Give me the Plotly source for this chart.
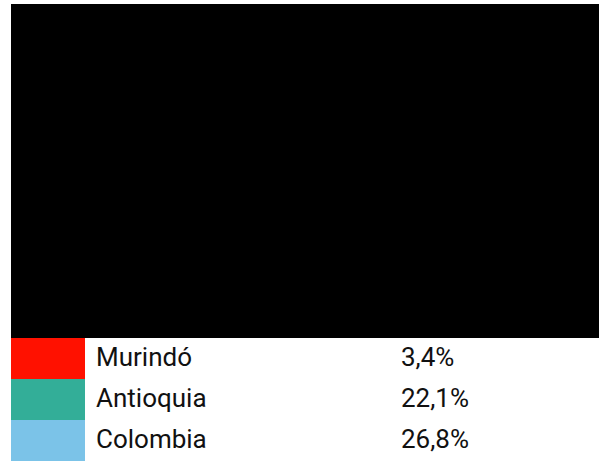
import plotly.graph_objects as go

# legend rows
NAMES = ["Murindó", "Antioquia", "Colombia"]
VALUES = [3.4, 22.1, 26.8]
COLORS = ["#ff1100", "#33ae98", "#7bc3e8"]

W, H = 599, 461
TOP, MAP_BOTTOM, LEFT = 4, 338, 11
HDR = 20  # hidden header, tucked under the black map

labels = [f"{v:.1f}".replace(".", ",") + "%" for v in VALUES]
blank = [""] * len(NAMES)
white = ["white"] * len(NAMES)

fig = go.Figure()

# empty black map area
fig.add_trace(go.Scatter(x=[], y=[], showlegend=False))

fig.add_trace(
    go.Table(
        domain=dict(x=[LEFT / W, 1], y=[0, (H - MAP_BOTTOM + HDR) / H]),
        columnwidth=[74, 3, 305, 206],
        header=dict(values=[""] * 4, height=HDR, fill_color="black",
                    line=dict(width=0, color="black"), font=dict(size=1)),
        cells=dict(
            values=[blank, blank, NAMES, labels],
            fill_color=[COLORS, white, white, white],
            line=dict(width=0, color="white"),
            align="left",
            height=41,
            font=dict(family="Roboto", size=26, color="#111111"),
        ),
    )
)

fig.update_layout(
    width=W,
    height=H,
    margin=dict(l=0, r=0, t=0, b=0),
    paper_bgcolor="white",
    plot_bgcolor="black",
    showlegend=False,
    xaxis=dict(domain=[LEFT / W, 1], visible=False, showgrid=False, zeroline=False),
    yaxis=dict(domain=[(H - MAP_BOTTOM) / H, (H - TOP) / H], visible=False, showgrid=False, zeroline=False),
)

fig.write_html("out.html", config={"displayModeBar": False},
               post_script="document.body.style.margin='0';")
